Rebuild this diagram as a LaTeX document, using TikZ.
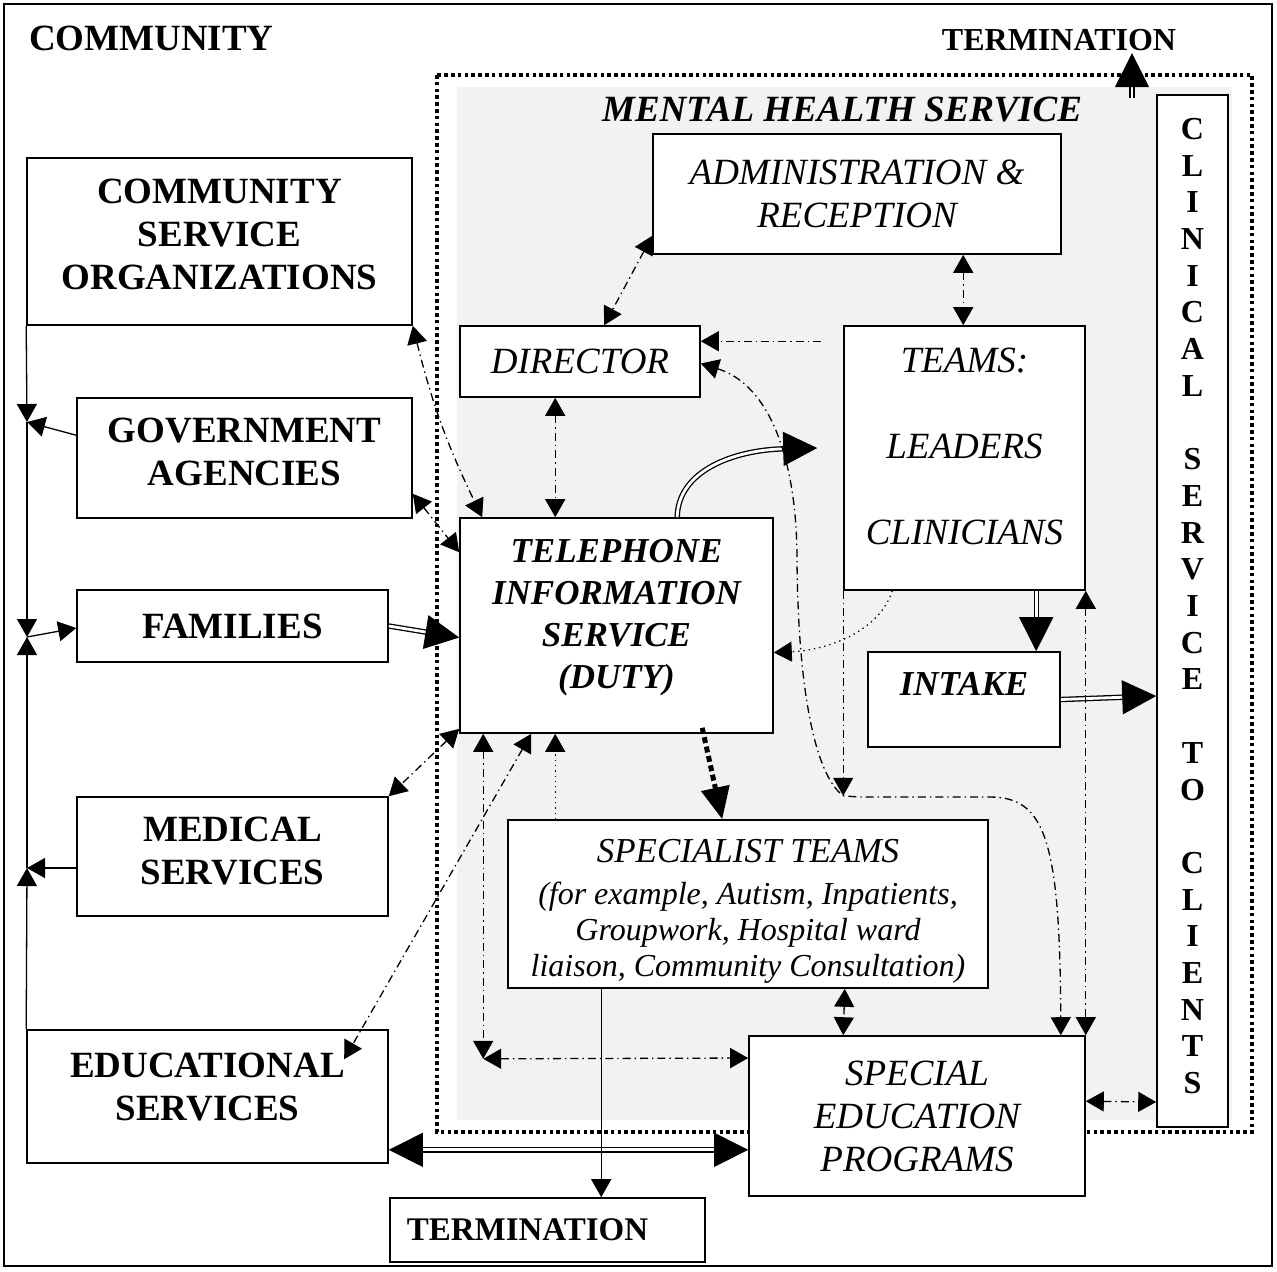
\documentclass[tikz,border=0pt]{standalone}
\usepackage{fontspec}
\setmainfont{Liberation Serif}
\usetikzlibrary{arrows.meta,calc}

\tikzset{
  box/.style={draw, fill=white, line width=0.8pt, inner sep=0pt, align=center},
  plain/.style={font=\bfseries\fontsize{18.5}{21.5}\selectfont},
  slant/.style={font=\itshape\fontsize{18.5}{21.5}\selectfont},
  heavy/.style={font=\bfseries\itshape\fontsize{17.5}{21}\selectfont},
  feed/.style={line width=0.65pt, >={Triangle[length=9pt,width=10pt]}},
  link/.style={feed, dash pattern=on 4pt off 2pt on 0.7pt off 2pt},
  pipe/.style={double, double distance=1.4pt, line width=0.65pt,
    >={Triangle[length=17pt,width=17pt]}},
}

\begin{document}
\begin{tikzpicture}[x=0.5pt, y=-0.5pt]

\useasboundingbox (0,0) rectangle (1277,1271);
\draw[line width=0.8pt] (4,4) rectangle (1272,1266);

% mental health service area
\draw[line width=2pt, dash pattern=on 1.8pt off 1.6pt] (437,75) rectangle (1252,1132);
\fill[gray!10] (457,87) rectangle (1232,1120);

\node[plain, anchor=west] (comm) at (22,38) {COMMUNITY};
\node[font=\bfseries\fontsize{16}{19}\selectfont, inner sep=1pt] (termt) at (1059,40) {TERMINATION};
\node[font=\bfseries\itshape\fontsize{18.5}{21.5}\selectfont] (mhs) at (842,110) {MENTAL HEALTH SERVICE};

% community side
\node[box, plain, minimum width=192.5pt, minimum height=83.5pt] (cso) at (219.5,241.5)
  {COMMUNITY\\SERVICE\\ORGANIZATIONS\\[-14.5pt]\mbox{}};
\node[box, plain, minimum width=167.5pt, minimum height=60pt] (gov) at (244.5,458)
  {GOVERNMENT\\AGENCIES\\[-15.5pt]\mbox{}};
\node[box, plain, minimum width=155.5pt, minimum height=36pt] (fam) at (232.5,626) {FAMILIES};
\node[box, plain, minimum width=155.5pt, minimum height=59.5pt] (med) at (232.5,856.5)
  {MEDICAL\\SERVICES\\[-16pt]\mbox{}};
\node[box, plain, minimum width=180.5pt, minimum height=66.5pt] (edu) at (207.5,1096.5)
  {EDUCATIONAL\\SERVICES\\[-11.5pt]\mbox{}};
\node[box, font=\bfseries\fontsize{16.5}{19}\selectfont, minimum width=157.5pt, minimum height=32pt] (termb) at (547.5,1230)
  {TERMINATION\hspace*{20pt}};

% service side
\node[box, slant, minimum width=204pt, minimum height=60pt] (admin) at (857,194)
  {ADMINISTRATION \&\\RECEPTION};
\node[box, slant, minimum width=120pt, minimum height=35.5pt] (dir) at (580,361.5) {DIRECTOR};
\node[box, font=\itshape\fontsize{18.5}{43}\selectfont, minimum width=120.5pt, minimum height=132pt] (teams) at (964.5,458)
  {TEAMS:\\LEADERS\\CLINICIANS\\[-31pt]\mbox{}};
\node[box, heavy, minimum width=156.5pt, minimum height=107.5pt] (tel) at (616.5,625.5)
  {TELEPHONE\\INFORMATION\\SERVICE\\(DUTY)\\[-9pt]\mbox{}};
\node[box, heavy, minimum width=96pt, minimum height=47.5pt] (intake) at (964,699.5)
  {INTAKE\\[-5.5pt]\mbox{}};
\node[box, font=\itshape\fontsize{16}{18}\selectfont, minimum width=240pt, minimum height=84pt] (spec) at (748,904)
  {\mbox{}\\[1pt]{\fontsize{17.5}{21}\selectfont SPECIALIST TEAMS}\\[3pt](for example, Autism, Inpatients,\\Groupwork, Hospital ward\\liaison, Community Consultation)};
\node[box, slant, minimum width=168pt, minimum height=80pt] (sep) at (917,1116)
  {SPECIAL\\EDUCATION\\PROGRAMS};
\node[box, font=\bfseries\fontsize{16}{18.35}\selectfont, minimum width=35.5pt, minimum height=516pt] (clin) at (1192.5,611)
  {C\\L\\I\\N\\I\\C\\A\\L\\~\\S\\E\\R\\V\\I\\C\\E\\~\\T\\O\\~\\C\\L\\I\\E\\N\\T\\S\\[-13.3pt]\mbox{}};

% community bus on the left
\coordinate (gj) at (27,422);
\coordinate (fj) at (27,637);
\coordinate (mj) at (27,868);
\draw[feed,->] (cso.south west) -- (gj);
\draw[feed,->] ($(gov.north west)+(0,38)$) -- (gj);
\draw[feed,->] (gj) -- (fj);
\draw[feed,->] (edu.north west) -- (mj);
\draw[feed,->] ($(med.west)+(0,11.5)$) -- (mj);
\draw[feed,->] (mj) -- (fj);
\draw[feed,->] (fj) -- ($(fam.west)+(0,2)$);

% main referral paths
\draw[pipe,->] (fam.east) -- ($(tel.west)+(0,12)$);
\draw[pipe,->] ($(tel.north west)+(218,0)$) .. controls (678,470) and (735,450) .. ($(teams.west)+(-26,-10)$);
\draw[pipe,->] ($(teams.south west)+(193,0)$) -- ($(intake.north west)+(169,0)$);
\draw[pipe,->] (intake.east) -- ($(clin.west)+(0,85)$);
\draw[pipe,<->] ($(edu.south east)+(0,-14)$) -- ($(sep.south west)+(0,-47)$);
\coordinate (exit) at (1132,98);
\draw[pipe,->] (exit) -- ($(termt.south)+(73,0)$);
\draw[line width=2.5pt, dash pattern=on 3pt off 1.8pt, -{Triangle[length=16pt,width=14pt]}]
  ($(tel.south west)+(243,-6)$) -- ($(spec.north west)+(215,0)$);

% liaison links
\draw[link,<->] (cso.south east) to[bend right=6] ($(tel.north west)+(23,0)$);
\draw[link,<->] ($(gov.south east)+(0,-25)$) -- ($(tel.north west)+(0,35)$);
\draw[link,<->] ($(tel.south west)+(0,-5)$) -- (med.north east);
\draw[link,<->] ($(tel.south west)+(72,0)$) -- ($(edu.north west)+(318,30)$);
\draw[link,<->] ($(dir.south west)+(96,0)$) -- ($(tel.north west)+(96,0)$);
\draw[link,<->] ($(admin.south west)+(0,-19)$) -- ($(dir.north west)+(145,0)$);
\draw[link,<->] ($(admin.south west)+(311,0)$) -- ($(teams.north west)+(120,0)$);
\coordinate (tmsrc) at ($(teams.north west)+(-22,16)$);
\draw[link,->] (tmsrc) -- ($(dir.north east)+(0,16)$);
\coordinate (jn) at ($(teams.south west)+(0,205)$);
\draw[link,->] (teams.south west) -- (jn);
\draw[link,<->] ($(dir.east)+(0,2)$) .. controls (770,385) and (797,460) .. (797,560)
  .. controls (798,690) and (815,775) .. (jn) .. controls (858,797) .. (880,797) -- (990,797)
  .. controls (1045,797) and (1060,840) .. ($(sep.north east)+(-25,0)$);
\draw[link,<->] (teams.south east) -- (sep.north east);
\draw[feed,dotted,->] ($(teams.south west)+(49,0)$) .. controls (880,630) and (830,650) .. ($(tel.east)+(0,27)$);
\draw[feed,dotted,->] ($(spec.north west)+(48,0)$) -- ($(tel.south west)+(96,0)$);
\coordinate (cnr) at ($(tel.south west)+(24,325)$);
\draw[link,<->] ($(tel.south west)+(24,0)$) -- (cnr);
\draw[link,<->] (cnr) -- ($(sep.west)+(0,-58)$);
\draw[link,<->] ($(spec.south east)+(-144,0)$) -- ($(sep.north west)+(95,0)$);
\draw[link,<->] ($(sep.north east)+(0,66)$) -- ($(clin.west)+(0,491)$);
\draw[feed,->] ($(spec.south west)+(94,0)$) -- ($(termb.north west)+(212,0)$);

\end{tikzpicture}
\end{document}
